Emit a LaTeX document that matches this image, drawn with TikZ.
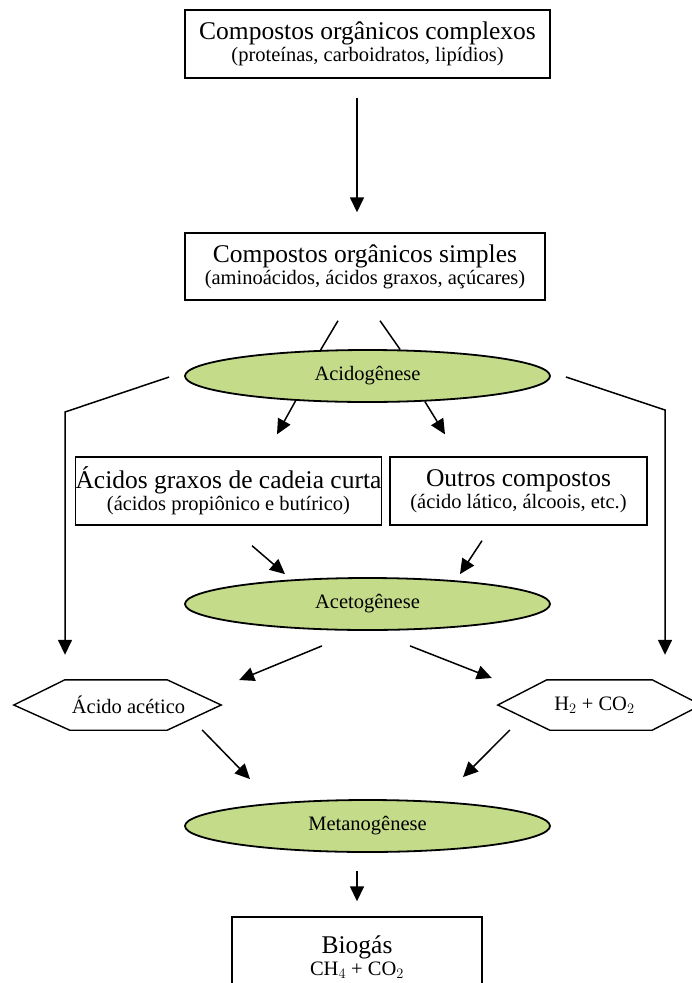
\documentclass[tikz,border=0pt]{standalone}
\usepackage{fontspec}
\setmainfont{Liberation Serif}
\usepackage{tikz}
\usetikzlibrary{arrows.meta, positioning, shapes, calc}
\usepackage{xcolor}
\definecolor{etapa}{RGB}{196,220,138}

\newcommand{\titulo}[1]{{\fontsize{25.5}{27}\selectfont #1}}

\tikzset{
  caixa/.style={draw, line width=1.4pt, inner sep=0pt, align=center,
    font=\fontsize{20.5}{22}\selectfont},
  fase/.style={draw, ellipse, fill=etapa, line width=1.8pt, inner sep=0pt,
    minimum width=365pt, minimum height=52pt, font=\fontsize{20.5}{22}\selectfont},
  produto/.style={inner sep=0pt, minimum height=50pt, font=\fontsize{20.5}{22}\selectfont},
  hexa/.style={line width=1.4pt, line join=miter},
  seta/.style={line width=1.5pt, -{Triangle[length=15pt,width=14pt]}},
  linha/.style={line width=1.5pt}
}

\begin{document}
\begin{tikzpicture}[x=1pt, y=-1pt]
\path[use as bounding box, clip] (0,0) rectangle (692,983);

\node[caixa, minimum width=365pt, minimum height=68pt] (complexos) at (367.5,44)
  {\titulo{Compostos orgânicos complexos}\\(proteínas, carboidratos, lipídios)};
\node[caixa, minimum width=360pt, minimum height=67pt] (simples) at (365,266.5)
  {\titulo{Compostos orgânicos simples}\\(aminoácidos, ácidos graxos, açúcares)};
\node[fase] (acido) at (367.5,376) {Acidogênese};
\node[caixa, minimum width=303pt, minimum height=68pt] (graxos) at (228.5,491)
  {\titulo{Ácidos graxos de cadeia curta}\\(ácidos propiônico e butírico)};
\node[caixa, minimum width=257pt, minimum height=68pt] (outros) at (518.5,491)
  {\titulo{Outros compostos}\\(ácido lático, álcoois, etc.)};
\node[fase] (aceto) at (367.5,604) {Acetogênese};
\node[produto, minimum width=207pt] (acetico) at (117.5,705) {\hspace*{22pt}Ácido acético};
\node[produto, minimum width=203pt] (hidro) at (599.5,705) {H$_2$ + CO$_2$\hspace*{10pt}};
\node[fase] (metano) at (367.5,826) {Metanogênese};
\node[caixa, minimum width=250pt, minimum height=80pt] (biogas) at (357,957)
  {\titulo{Biogás}\\CH$_4$ + CO$_2$};

% contornos hexagonais
\draw[hexa] (acetico.west) -- ([xshift=51pt]acetico.north west) -- ([xshift=-54pt]acetico.north east)
  -- (acetico.east) -- ([xshift=-54pt]acetico.south east) -- ([xshift=56pt]acetico.south west) -- cycle;
\draw[hexa] (hidro.west) -- ([xshift=49pt]hidro.north west) -- ([xshift=-49pt]hidro.north east)
  -- (hidro.east) -- ([xshift=-49pt]hidro.south east) -- ([xshift=52pt]hidro.south west) -- cycle;

\coordinate (dobraE) at (65,412);
\coordinate (dobraD) at (665,410);

% hidrolise
\draw[seta] ($(complexos.south)+(-10.5,19)$) -- ($(simples.north)+(-8,-20)$);
% acidogenese
\draw[linha] ($(simples.south)+(-27,20)$) -- (acido.151);
\draw[linha] ($(simples.south)+(15,20)$) -- (acido.39);
\draw[seta] (acido.199) -- ($(graxos.north)+(48.5,-22)$);
\draw[seta] (acido.336) -- ($(outros.north)+(-73.5,-22)$);
\draw[seta] ($(acido.west)+(-15,1)$) -- (dobraE) -- ($(acetico.north)+(-52.5,-25)$);
\draw[seta] ($(acido.east)+(15,1)$) -- (dobraD) -- ($(hidro.north)+(65.5,-25)$);
% acetogenese
\draw[seta] ($(graxos.south)+(23.5,20)$) -- ($(aceto.north)+(-82.5,-3)$);
\draw[seta] ($(outros.south)+(-36.5,15)$) -- ($(aceto.north)+(92.5,-3)$);
\draw[seta] ($(aceto.south)+(-45.5,15)$) -- ($(acetico.east)+(18,-25)$);
\draw[seta] ($(aceto.south)+(42.5,15)$) -- ($(hidro.west)+(-6,-27)$);
% metanogenese
\draw[seta] ($(acetico.east)+(-19,25)$) -- ($(metano.north)+(-117.5,-20)$);
\draw[seta] ($(hidro.west)+(12,25)$) -- ($(metano.north)+(95.5,-22)$);
\draw[seta] ($(metano.south)+(-10.5,18)$) -- ($(biogas.north)+(0,-15)$);
\end{tikzpicture}
\end{document}
